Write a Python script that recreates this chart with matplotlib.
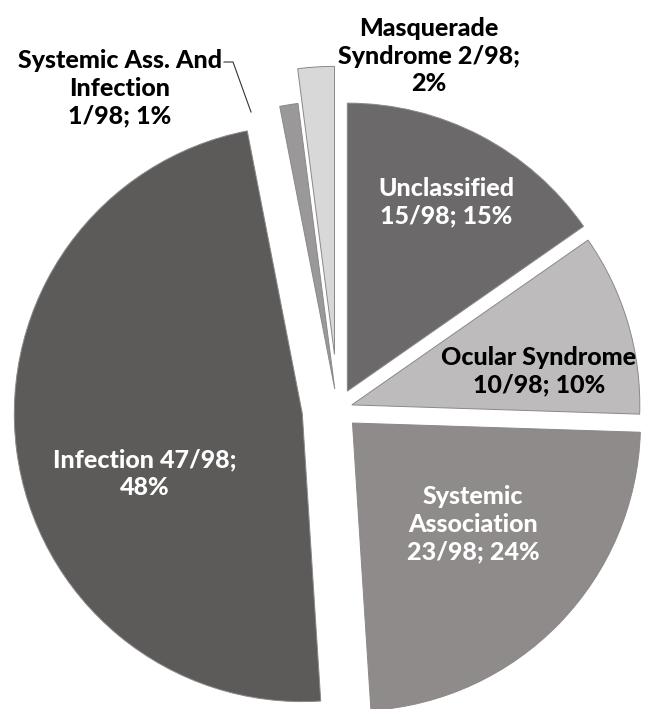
import matplotlib
matplotlib.use("Agg")
import matplotlib.pyplot as plt

# data (counts out of 98)
categories = ["Unclassified", "Ocular Syndrome", "Systemic Association",
              "Infection", "Systemic Ass. And Infection", "Masquerade Syndrome"]
counts = [15, 10, 23, 47, 1, 2]
label_texts = ["Unclassified\n15/98; 15%",
               "Ocular Syndrome\n10/98; 10%",
               "Systemic\nAssociation\n23/98; 24%",
               "Infection 47/98;\n48%",
               "Systemic Ass. And\nInfection\n1/98; 1%",
               "Masquerade\nSyndrome 2/98;\n2%"]

# styling
colors = ["#6b6969", "#bdbbbb", "#8e8b8a", "#5c5b5a", "#9a9898", "#d9d8d8"]
explode = [0.07, 0.05, 0.07, 0.125, 0.07, 0.19]
text_colors = ["white", "black", "white", "white", "black", "black"]
# label centres in pixels (x, y from top)
label_pos = [(446, 202), (539, 371), (473, 524), (145, 474), (120, 88), (429, 56)]

W, H = 651, 709
cx, cy, R = 338, 409, 288

plt.rcParams['font.family'] = ['Lato', 'DejaVu Sans']

fig = plt.figure(figsize=(W / 100, H / 100), dpi=100)
ax = fig.add_axes([0, 0, 1, 1])
ax.pie(counts, colors=colors, explode=explode, startangle=90, counterclock=False,
       radius=1, wedgeprops=dict(edgecolor="#8a8888", linewidth=0.7))
ax.set_xlim(-cx / R, (W - cx) / R)
ax.set_ylim(-(H - cy) / R, cy / R)
ax.set_aspect("auto")
ax.axis("off")

for txt, (px, py), c in zip(label_texts, label_pos, text_colors):
    ax.text(px / W, 1 - py / H, txt, transform=ax.transAxes, ha="center", va="center",
            fontsize=18, fontweight=900, color=c, linespacing=1.25)

# leader line for the 1% slice
lx = [224, 233, 251]
ly = [62, 62, 112]
ax.plot([v / W for v in lx], [1 - v / H for v in ly], transform=ax.transAxes,
        color="#333333", linewidth=0.8)

fig.savefig("out.png", dpi=100)
